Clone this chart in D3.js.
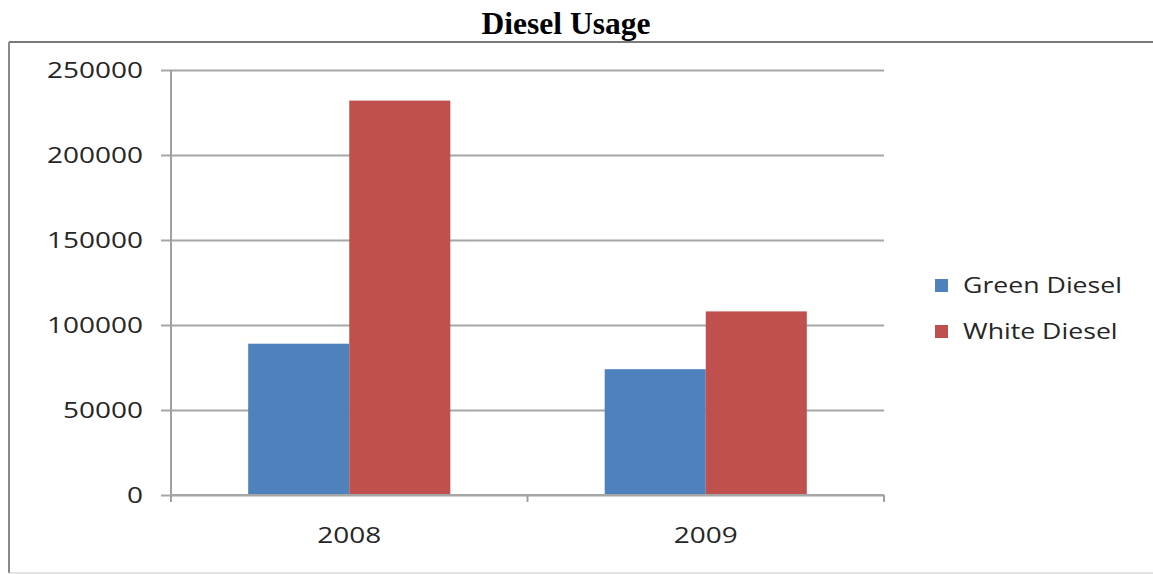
<!DOCTYPE html>
<html>
<head>
<meta charset="utf-8">
<script src="https://cdn.jsdelivr.net/npm/d3@7"></script>
<style>
  html, body { margin: 0; padding: 0; background: #fff; }
  svg { display: block; }
</style>
</head>
<body>
<svg id="chart" width="1153" height="574"></svg>
<script>
// Diesel usage by year, two fuel types
const years = ["2008", "2009"];
const seriesNames = ["Green Diesel", "White Diesel"];
const greenDiesel = [89000, 74000];
const whiteDiesel = [232000, 108000];
const yTicks = [0, 50000, 100000, 150000, 200000, 250000];
const seriesColors = ["#4F81BD", "#C0504D"];

const svg = d3.select("#chart");
const W = 1153, H = 574;
const plot = { left: 171, right: 884, top: 70, bottom: 495 };
const textFont = "'Open Sans', sans-serif";
const textColor = "#262626";
const stretch = 1.27; // widen chart labels horizontally

function widen(sel) {
  sel.each(function () {
    const len = this.getComputedTextLength();
    d3.select(this).attr("textLength", len * stretch).attr("lengthAdjust", "spacingAndGlyphs");
  });
}

// title
svg.append("text")
  .attr("x", 566).attr("y", 34)
  .attr("text-anchor", "middle")
  .attr("font-family", "'Liberation Serif', 'Times New Roman', serif")
  .attr("font-weight", "bold")
  .attr("font-size", 31.5)
  .attr("fill", "#000")
  .text("Diesel Usage");

// outer frame
svg.append("line").attr("x1", 9).attr("x2", W).attr("y1", 42).attr("y2", 42)
  .attr("stroke", "#7a7a7a").attr("stroke-width", 2);
svg.append("line").attr("x1", 9).attr("x2", 9).attr("y1", 42).attr("y2", 573)
  .attr("stroke", "#8a8a8a").attr("stroke-width", 2);
svg.append("line").attr("x1", 9).attr("x2", W).attr("y1", 573).attr("y2", 573)
  .attr("stroke", "#c8c8c8").attr("stroke-width", 1);

const x0 = d3.scaleBand().domain(years).range([plot.left, plot.right])
  .paddingInner(0.433).paddingOuter(0.2165);
const x1 = d3.scaleBand().domain(seriesNames).range([0, x0.bandwidth()]);
const y = d3.scaleLinear().domain([0, 250000]).range([plot.bottom, plot.top]);

// horizontal gridlines with the left tick marks
const grid = svg.append("g").attr("transform", `translate(${plot.left},0)`)
  .call(d3.axisLeft(y).tickValues(yTicks).tickSize(-(plot.right - plot.left)).tickFormat(""))
  .call(g => g.select(".domain").remove());
grid.selectAll(".tick line").attr("x1", -10).attr("stroke", "#a6a6a6").attr("stroke-width", 2);

// bars
const data = years.map((yr, i) => ({ year: yr, values: [greenDiesel[i], whiteDiesel[i]] }));
svg.append("g").selectAll("g").data(data).join("g")
  .attr("transform", d => `translate(${x0(d.year)},0)`)
  .selectAll("rect").data(d => d.values.map((v, j) => ({ name: seriesNames[j], v, j })))
  .join("rect")
  .attr("x", d => x1(d.name))
  .attr("width", x1.bandwidth())
  .attr("y", d => y(d.v))
  .attr("height", d => y(0) - y(d.v))
  .attr("fill", d => seriesColors[d.j]);

// y axis line
svg.append("line").attr("x1", plot.left).attr("x2", plot.left)
  .attr("y1", plot.top).attr("y2", plot.bottom + 7)
  .attr("stroke", "#a0a0a0").attr("stroke-width", 2);

// x axis with category boundary ticks
const xAxisG = svg.append("g").attr("transform", `translate(0,${plot.bottom})`);
xAxisG.append("line").attr("x1", plot.left).attr("x2", plot.right)
  .attr("stroke", "#a6a6a6").attr("stroke-width", 2);
const step = x0.step();
const boundaries = d3.range(years.length + 1).map(i => plot.left + i * step);
xAxisG.selectAll("line.bt").data(boundaries.slice(1)).join("line").attr("class", "bt")
  .attr("x1", d => d).attr("x2", d => d).attr("y1", 0).attr("y2", 7)
  .attr("stroke", "#a0a0a0").attr("stroke-width", 2);

// y tick labels
svg.append("g").selectAll("text").data(yTicks).join("text")
  .attr("x", 143).attr("y", d => y(d))
  .attr("dy", "0.35em")
  .attr("text-anchor", "end")
  .attr("font-family", textFont).attr("font-size", 22).attr("fill", textColor)
  .text(d => d3.format("d")(d))
  .call(widen);

// x labels
svg.append("g").selectAll("text").data(years).join("text")
  .attr("x", d => x0(d) + x0.bandwidth() / 2).attr("y", 543)
  .attr("text-anchor", "middle")
  .attr("font-family", textFont).attr("font-size", 22).attr("fill", textColor)
  .text(d => d)
  .call(widen);

// legend
const legend = svg.append("g").selectAll("g").data(seriesNames).join("g")
  .attr("transform", (d, i) => `translate(935,${286 + i * 46})`);
legend.append("rect").attr("x", 0).attr("y", -7).attr("width", 13).attr("height", 13)
  .attr("fill", (d, i) => seriesColors[i]);
legend.append("text").attr("x", 28).attr("y", 0).attr("dy", "0.35em")
  .attr("font-family", textFont).attr("font-size", 21).attr("fill", textColor)
  .text(d => d)
  .call(widen);
</script>
</body>
</html>
